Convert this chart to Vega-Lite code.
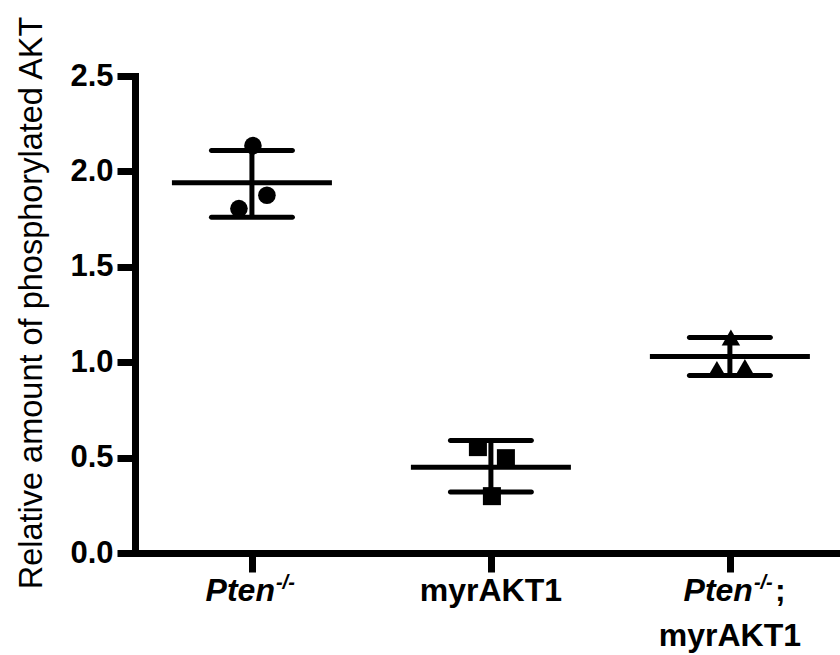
{
  "$schema": "https://vega.github.io/schema/vega-lite/v6.json",
  "width": 705,
  "height": 477,
  "autosize": "none",
  "padding": {"left": 135, "top": 76, "right": 0, "bottom": 102},
  "background": "white",
  "config": {"view": {"stroke": null}, "font": "Liberation Sans"},
  "datasets": {
    "points": [
      {"group": "Pten-/-", "rep": "C", "value": 2.135},
      {"group": "Pten-/-", "rep": "R", "value": 1.875},
      {"group": "Pten-/-", "rep": "L", "value": 1.805},
      {"group": "myrAKT1", "rep": "L", "value": 0.555},
      {"group": "myrAKT1", "rep": "R", "value": 0.497},
      {"group": "myrAKT1", "rep": "C", "value": 0.298},
      {"group": "Pten-/-; myrAKT1", "rep": "C", "value": 1.13},
      {"group": "Pten-/-; myrAKT1", "rep": "L", "value": 0.965},
      {"group": "Pten-/-; myrAKT1", "rep": "R", "value": 0.975}
    ],
    "summary": [
      {"group": "Pten-/-", "mean": 1.94, "lo": 1.76, "hi": 2.11},
      {"group": "myrAKT1", "mean": 0.45, "lo": 0.32, "hi": 0.59},
      {"group": "Pten-/-; myrAKT1", "mean": 1.03, "lo": 0.93, "hi": 1.13}
    ],
    "labels": [
      {"group": "Pten-/-", "italic": "Pten", "sup": "-/-", "tail": "", "line1": "", "line2": ""},
      {"group": "myrAKT1", "italic": "", "sup": "", "tail": "", "line1": "myrAKT1", "line2": ""},
      {"group": "Pten-/-; myrAKT1", "italic": "Pten", "sup": "-/-", "tail": ";", "line1": "", "line2": "myrAKT1"}
    ]
  },
  "encoding": {
    "x": {
      "field": "group",
      "type": "nominal",
      "scale": {
        "type": "point",
        "domain": ["Pten-/-", "myrAKT1", "Pten-/-; myrAKT1"],
        "padding": 0.475,
        "align": 0.515
      },
      "axis": {
        "labels": false,
        "title": null,
        "tickSize": 19,
        "tickWidth": 7,
        "tickColor": "black",
        "domainWidth": 7,
        "domainColor": "black",
        "domainCap": "square",
        "grid": false
      }
    }
  },
  "layer": [
    {
      "data": {"name": "points"},
      "mark": {"type": "point", "filled": true, "opacity": 1, "color": "black", "strokeWidth": 0},
      "encoding": {
        "y": {
          "field": "value",
          "type": "quantitative",
          "title": "Relative amount of phosphorylated AKT",
          "scale": {"domain": [0, 2.5], "nice": false, "zero": true},
          "axis": {
            "values": [0, 0.5, 1, 1.5, 2, 2.5],
            "format": ".1f",
            "titleFontSize": 32.5,
            "titleFontWeight": "normal",
            "titleColor": "black",
            "titleX": -94,
            "titleY": 226.5,
            "titleBaseline": "alphabetic",
            "titleAngle": 270,
            "labelFontSize": 31,
            "labelFontWeight": "bold",
            "labelColor": "black",
            "labelPadding": 4,
            "labelFlush": false,
            "labelOverlap": false,
            "tickSize": 18,
            "tickWidth": 7,
            "tickColor": "black",
            "domainWidth": 7,
            "domainColor": "black",
            "domainCap": "square",
            "grid": false
          }
        },
        "xOffset": {
          "field": "rep",
          "type": "nominal",
          "scale": {"type": "point", "domain": ["L", "C", "R"], "range": [-13, 15], "padding": 0}
        },
        "shape": {
          "field": "group",
          "type": "nominal",
          "scale": {
            "domain": ["Pten-/-", "myrAKT1", "Pten-/-; myrAKT1"],
            "range": ["circle", "square", "triangle-up"]
          },
          "legend": null
        },
        "size": {
          "field": "group",
          "type": "nominal",
          "scale": {
            "domain": ["Pten-/-", "myrAKT1", "Pten-/-; myrAKT1"],
            "range": [310, 340, 270]
          },
          "legend": null
        }
      }
    },
    {
      "data": {"name": "summary"},
      "mark": {"type": "rule", "strokeWidth": 5, "color": "black"},
      "encoding": {
        "y": {"field": "lo", "type": "quantitative", "title": "Relative amount of phosphorylated AKT"},
        "y2": {"field": "hi"}
      }
    },
    {
      "data": {"name": "summary"},
      "mark": {"type": "tick", "size": 160, "thickness": 5, "color": "black", "opacity": 1},
      "encoding": {
        "y": {"field": "mean", "type": "quantitative", "title": "Relative amount of phosphorylated AKT"}
      }
    },
    {
      "data": {"name": "summary"},
      "mark": {"type": "tick", "size": 86, "thickness": 5, "color": "black", "opacity": 1, "cornerRadius": 2.5},
      "encoding": {
        "y": {"field": "lo", "type": "quantitative", "title": "Relative amount of phosphorylated AKT"}
      }
    },
    {
      "data": {"name": "summary"},
      "mark": {"type": "tick", "size": 86, "thickness": 5, "color": "black", "opacity": 1, "cornerRadius": 2.5},
      "encoding": {
        "y": {"field": "hi", "type": "quantitative", "title": "Relative amount of phosphorylated AKT"}
      }
    },
    {
      "data": {"name": "labels"},
      "mark": {"type": "text", "fontSize": 32, "fontWeight": "bold", "fontStyle": "italic", "align": "right", "baseline": "alphabetic", "dx": 23, "dy": 48, "color": "black"},
      "encoding": {
        "y": {"datum": 0, "type": "quantitative", "title": "Relative amount of phosphorylated AKT"},
        "text": {"field": "italic"}
      }
    },
    {
      "data": {"name": "labels"},
      "mark": {"type": "text", "fontSize": 20, "fontWeight": "bold", "fontStyle": "italic", "align": "left", "baseline": "alphabetic", "dx": 24, "dy": 36, "color": "black"},
      "encoding": {
        "y": {"datum": 0, "type": "quantitative", "title": "Relative amount of phosphorylated AKT"},
        "text": {"field": "sup"}
      }
    },
    {
      "data": {"name": "labels"},
      "mark": {"type": "text", "fontSize": 32, "fontWeight": "bold", "align": "left", "baseline": "alphabetic", "dx": 45, "dy": 48, "color": "black"},
      "encoding": {
        "y": {"datum": 0, "type": "quantitative", "title": "Relative amount of phosphorylated AKT"},
        "text": {"field": "tail"}
      }
    },
    {
      "data": {"name": "labels"},
      "mark": {"type": "text", "fontSize": 32, "fontWeight": "bold", "align": "center", "baseline": "alphabetic", "dy": 48, "color": "black"},
      "encoding": {
        "y": {"datum": 0, "type": "quantitative", "title": "Relative amount of phosphorylated AKT"},
        "text": {"field": "line1"}
      }
    },
    {
      "data": {"name": "labels"},
      "mark": {"type": "text", "fontSize": 32, "fontWeight": "bold", "align": "center", "baseline": "alphabetic", "dy": 93, "color": "black"},
      "encoding": {
        "y": {"datum": 0, "type": "quantitative", "title": "Relative amount of phosphorylated AKT"},
        "text": {"field": "line2"}
      }
    }
  ]
}
